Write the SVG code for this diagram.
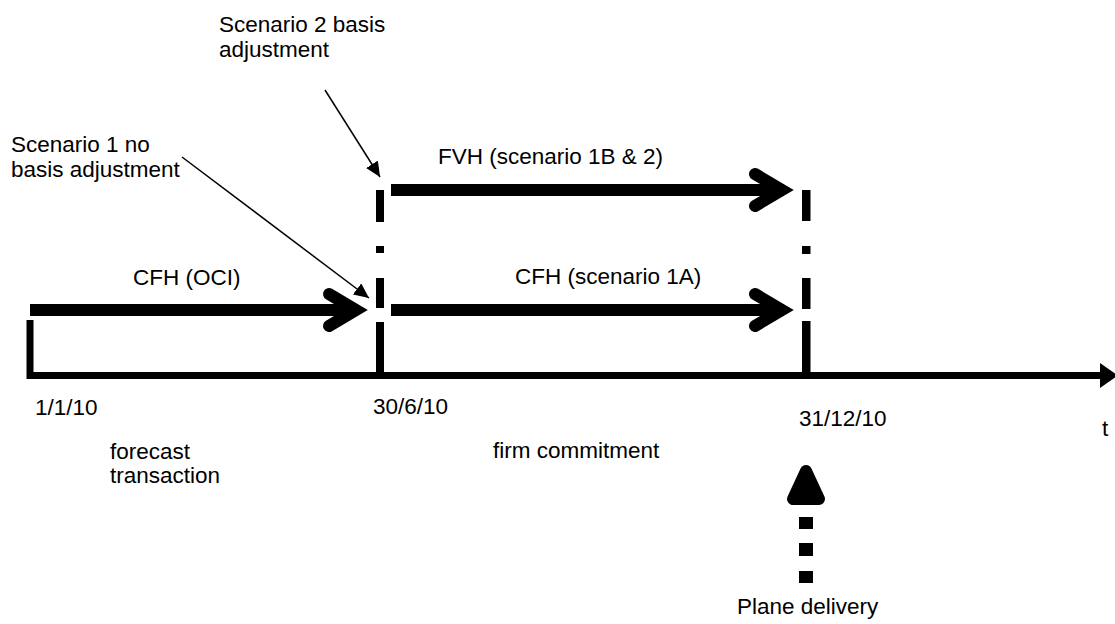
<svg xmlns="http://www.w3.org/2000/svg" width="1115" height="624" viewBox="0 0 1115 624">
  <style>
    text { font-family: "Liberation Sans", Arial, sans-serif; font-size: 22.5px; fill: #000; }
    .thick { stroke: #000; stroke-width: 12; fill: none; }
    .head { stroke: #000; stroke-width: 12; fill: none; stroke-linecap: round; stroke-linejoin: miter; stroke-miterlimit: 10; }
    .axis { stroke: #000; stroke-width: 7; fill: none; }
    .thin { stroke: #000; stroke-width: 1.5; fill: none; }
    .bar { fill: #000; }
  </style>
  <defs>
    <marker id="tri" markerUnits="userSpaceOnUse" markerWidth="16" markerHeight="14" refX="15" refY="7" orient="auto">
      <path d="M0,0 L15,7 L0,14 Z" fill="#000"/>
    </marker>
  </defs>
  <rect width="1115" height="624" fill="#fff"/>

  <g id="timeline">
    <line class="axis" x1="30" y1="375.5" x2="1102" y2="375.5"/>
    <path d="M1100,363 L1118,375.5 L1100,388 Z" fill="#000"/>
    <line class="axis" x1="30" y1="320" x2="30" y2="379"/>
  </g>

  <g id="marker-30-6-10">
    <rect class="bar" x="376" y="190" width="8" height="32"/>
    <rect class="bar" x="376" y="246" width="8" height="7"/>
    <rect class="bar" x="376" y="278" width="8" height="30"/>
    <rect class="bar" x="376" y="322" width="8" height="54"/>
  </g>

  <g id="marker-31-12-10">
    <rect class="bar" x="802" y="190" width="8.5" height="31"/>
    <rect class="bar" x="802" y="246" width="8.5" height="8"/>
    <rect class="bar" x="802" y="278" width="8.5" height="31"/>
    <rect class="bar" x="802" y="321" width="8.5" height="55"/>
  </g>

  <g id="connectors">
    <g id="cfh-oci-arrow">
      <line class="thick" x1="30" y1="310" x2="358" y2="310"/>
      <path class="head" d="M329,294 L356,310 L329,326"/>
    </g>
    <g id="fvh-arrow">
      <line class="thick" x1="391" y1="190" x2="784" y2="190"/>
      <path class="head" d="M755,174 L782,190 L755,206"/>
    </g>
    <g id="cfh-1a-arrow">
      <line class="thick" x1="391" y1="310" x2="784" y2="310"/>
      <path class="head" d="M755,294 L782,310 L755,326"/>
    </g>
    <g id="plane-arrow">
      <rect class="bar" x="799" y="517" width="14" height="12"/>
      <rect class="bar" x="799" y="543" width="14" height="13"/>
      <rect class="bar" x="799" y="571" width="14" height="12"/>
      <path d="M806,471 L793,499 L819,499 Z" fill="#000" stroke="#000" stroke-width="12" stroke-linejoin="round"/>
    </g>
    <line id="scenario1-pointer" class="thin" x1="182" y1="157" x2="369" y2="298" marker-end="url(#tri)"/>
    <line id="scenario2-pointer" class="thin" x1="325" y1="90" x2="380" y2="177" marker-end="url(#tri)"/>
  </g>

  <g id="labels">
    <g id="scenario2-label">
      <text x="219" y="32">Scenario 2 basis</text>
      <text x="219" y="57">adjustment</text>
    </g>
    <g id="scenario1-label">
      <text x="11" y="152">Scenario 1 no</text>
      <text x="11" y="177">basis adjustment</text>
    </g>
    <text id="fvh-label" x="438" y="164">FVH (scenario 1B &amp; 2)</text>
    <text id="cfh-oci-label" x="133" y="285">CFH (OCI)</text>
    <text id="cfh-1a-label" x="515" y="284">CFH (scenario 1A)</text>
    <text id="date1" x="35" y="415">1/1/10</text>
    <text id="date2" x="373" y="414">30/6/10</text>
    <text id="date3" x="799" y="426">31/12/10</text>
    <text id="t-label" x="1102" y="436">t</text>
    <g id="forecast-label">
      <text x="110" y="459">forecast</text>
      <text x="110" y="483">transaction</text>
    </g>
    <text id="firm-label" x="493" y="458">firm commitment</text>
    <text id="plane-label" x="737" y="614">Plane delivery</text>
  </g>
</svg>
